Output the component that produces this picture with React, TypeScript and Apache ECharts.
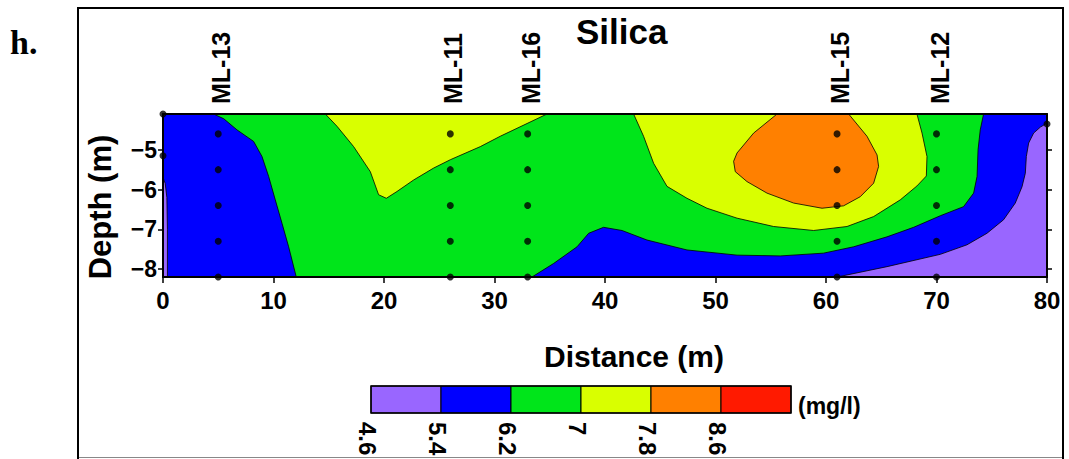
import React, { useEffect, useRef } from "react";
import * as echarts from "echarts";

// Axis ticks
const distanceMin = 0;
const distanceMax = 80;
const depthTop = -4.1;
const depthBottom = -8.2;
const depthTicks = [-8, -7, -6, -5];

// Monitoring wells along the transect and their sampling depths
const wellNames = ["ML-13", "ML-11", "ML-16", "ML-15", "ML-12"];
const wellDistances = [5, 26, 33, 61, 70];
const sampleDepths = [-4.6, -5.5, -6.4, -7.3, -8.2];
const extraSamples: [number, number][] = [
  [0, -4.1],
  [0, -5.15],
  [80, -4.35],
];

// Concentration classes (mg/l)
const levels = [4.6, 5.4, 6.2, 7, 7.8, 8.6];
const levelColors = ["#9966ff", "#0000ff", "#00e51a", "#d9ff00", "#ff8000", "#ff1a00"];

// Contour bands as [distance, depth] outlines, painted in order
const fullSection: [number, number][] = [
  [0, -4.1], [80, -4.1], [80, -8.2], [0, -8.2],
];
const blueLeft: [number, number][] = [
  [0, -4.1], [4.58, -4.1], [5.5, -4.22], [6.7, -4.5], [8.2, -4.79], [8.96, -5.17],
  [9.56, -5.67], [10.16, -6.26], [10.77, -6.85], [11.37, -7.44], [12.06, -8.2], [0, -8.2],
];
const purpleLeft: [number, number][] = [
  [0, -5.7], [0.2, -5.85], [0.35, -6.2], [0.4, -7.0], [0.4, -8.2], [0, -8.2],
];
const blueRight: [number, number][] = [
  [33.39, -8.2], [35.35, -7.86], [37.47, -7.44], [38.52, -7.1], [39.87, -6.95],
  [41.54, -7.03], [43.8, -7.27], [47.42, -7.52], [51.95, -7.65], [55.86, -7.67],
  [59.78, -7.6], [62.5, -7.44], [65.52, -7.19], [67.93, -6.95], [70.34, -6.66],
  [72.45, -6.43], [73.36, -6.09], [73.67, -5.67], [73.76, -5.0], [73.96, -4.5],
  [74.26, -4.1], [80, -4.1], [80, -8.2],
];
const purpleRight: [number, number][] = [
  [61, -8.2], [65.52, -7.94], [70.34, -7.63], [72.76, -7.39], [74.57, -7.1],
  [76.07, -6.76], [77.13, -6.34], [77.74, -5.93], [78.04, -5.59], [78.13, -5.17],
  [78.34, -4.83], [78.79, -4.58], [79.4, -4.43], [80, -4.33], [80, -8.2],
];
const yellowLeft: [number, number][] = [
  [14.69, -4.1], [15.75, -4.41], [17.25, -4.92], [18.76, -5.55], [19.51, -6.13],
  [20.21, -6.22], [21.17, -6.05], [22.68, -5.76], [24.49, -5.46], [26.0, -5.25],
  [28.72, -4.92], [30.52, -4.66], [32.94, -4.34], [34.75, -4.1],
];
const yellowRight: [number, number][] = [
  [42.59, -4.1], [43.49, -4.66], [44.4, -5.34], [45.61, -5.92], [47.42, -6.22],
  [49.23, -6.47], [51.95, -6.72], [55.26, -6.93], [58.88, -7.03], [61.9, -6.93],
  [64.31, -6.68], [66.72, -6.26], [68.23, -5.91], [69.08, -5.66], [69.14, -5.17],
  [68.69, -4.58], [68.23, -4.1],
];
const orangeCore: [number, number][] = [
  [55.57, -4.1], [53.45, -4.58], [51.95, -5.08], [51.64, -5.29], [51.79, -5.55],
  [52.85, -5.8], [54.66, -6.09], [57.07, -6.34], [59.64, -6.47], [61.59, -6.41],
  [63.1, -6.18], [64.31, -5.84], [64.76, -5.42], [64.62, -5.13], [63.71, -4.66],
  [62.05, -4.1],
];

const bands: { band: number; outline: boolean; points: [number, number][] }[] = [
  { band: 2, outline: false, points: fullSection },
  { band: 1, outline: true, points: blueLeft },
  { band: 0, outline: true, points: purpleLeft },
  { band: 1, outline: true, points: blueRight },
  { band: 0, outline: true, points: purpleRight },
  { band: 3, outline: true, points: yellowLeft },
  { band: 3, outline: true, points: yellowRight },
  { band: 4, outline: true, points: orangeCore },
];

const sansFont = '"Liberation Sans", Arial, sans-serif';

const minusLabel = (v: number) => String(v).replace("-", "\u2212");

export default function App() {
  const ref = useRef<HTMLDivElement>(null);

  useEffect(() => {
    document.body.style.margin = "0";
    if (!ref.current) return;
    const chart = echarts.init(ref.current, undefined, { renderer: "svg" });

    const samplePoints: [number, number][] = [];
    wellDistances.forEach((d) => sampleDepths.forEach((z) => samplePoints.push([d, z])));
    extraSamples.forEach((p) => samplePoints.push(p));

    const axisTickStyle = { color: "#000", width: 1.5 };
    const axisLineStyle = { color: "#000", width: 2 };

    const option: any = {
      animation: false,
      backgroundColor: "#fff",
      title: {
        text: "Silica",
        left: 571,
        top: 9,
        textStyle: { fontSize: 35, fontWeight: "bold", fontFamily: sansFont, color: "#000" },
      },
      grid: { left: 163, top: 114, width: 884, height: 163, show: false },
      xAxis: [
        {
          type: "value",
          min: distanceMin,
          max: distanceMax,
          interval: 10,
          position: "bottom",
          z: 10,
          axisLine: { show: true, onZero: false, lineStyle: axisLineStyle },
          axisTick: { show: true, inside: false, length: 6, lineStyle: axisTickStyle },
          axisLabel: {
            margin: 11,
            color: "#000",
            fontSize: 24,
            fontWeight: "bold",
            fontFamily: sansFont,
          },
          splitLine: { show: false },
        },
        {
          type: "value",
          min: distanceMin,
          max: distanceMax,
          interval: 10,
          position: "top",
          z: 10,
          axisLine: { show: true, onZero: false, lineStyle: axisLineStyle },
          axisTick: { show: false },
          axisLabel: { show: false },
          splitLine: { show: false },
        },
      ],
      yAxis: [
        {
          type: "value",
          min: depthBottom,
          max: depthTop,
          position: "left",
          z: 10,
          axisLine: { show: true, onZero: false, lineStyle: axisLineStyle },
          axisTick: {
            show: true,
            inside: false,
            length: 5,
            customValues: depthTicks,
            lineStyle: axisTickStyle,
          },
          axisLabel: {
            customValues: depthTicks,
            formatter: minusLabel,
            margin: 6,
            color: "#000",
            fontSize: 23,
            fontWeight: "bold",
            fontFamily: sansFont,
          },
          splitLine: { show: false },
        },
        {
          type: "value",
          min: depthBottom,
          max: depthTop,
          position: "right",
          z: 10,
          axisLine: { show: true, onZero: false, lineStyle: axisLineStyle },
          axisTick: {
            show: true,
            inside: false,
            length: 5,
            customValues: depthTicks,
            lineStyle: axisTickStyle,
          },
          axisLabel: { show: false },
          splitLine: { show: false },
        },
      ],
      series: [
        {
          type: "custom",
          xAxisIndex: 0,
          yAxisIndex: 0,
          z: 2,
          data: bands.map((b) => [b.points[0][0], b.points[0][1]]),
          renderItem: (params: any, api: any) => {
            const b = bands[params.dataIndex];
            const pts = b.points.map((p) => api.coord(p));
            return {
              type: "polygon",
              shape: { points: pts },
              style: {
                fill: levelColors[b.band],
                stroke: b.outline ? "#000" : "none",
                lineWidth: 0.8,
              },
            };
          },
        },
        {
          type: "scatter",
          xAxisIndex: 0,
          yAxisIndex: 0,
          z: 12,
          clip: false,
          symbol: "circle",
          symbolSize: 7,
          itemStyle: { color: "#000" },
          data: samplePoints,
        },
      ],
    };

    chart.setOption(option);

    // Well names stand upright above the section, placed through the axis scale
    const wellLabels = wellNames.map((n, i) => {
      const [px, py] = chart.convertToPixel({ xAxisIndex: 0, yAxisIndex: 0 }, [
        wellDistances[i],
        depthTop,
      ]) as number[];
      return {
        type: "text",
        x: px + 3,
        y: py - 10,
        rotation: Math.PI / 2,
        style: {
          text: n,
          align: "left",
          verticalAlign: "middle",
          font: `bold 25px ${sansFont}`,
          fill: "#000",
        },
      };
    });

    // Colour-scale legend below the section
    const legendLeft = 371;
    const legendTop = 386;
    const boxW = 70;
    const boxH = 27;
    const legendItems: any[] = [];
    levelColors.forEach((c, i) => {
      legendItems.push({
        type: "rect",
        shape: { x: legendLeft + i * boxW, y: legendTop, width: boxW, height: boxH },
        style: { fill: c, stroke: "#000", lineWidth: 1 },
      });
    });
    legendItems.push({
      type: "rect",
      shape: { x: legendLeft, y: legendTop, width: boxW * levelColors.length, height: boxH },
      style: { fill: "none", stroke: "#000", lineWidth: 1.5 },
    });
    levels.forEach((v, i) => {
      legendItems.push({
        type: "text",
        x: legendLeft + i * boxW - 4,
        y: legendTop + boxH + 9,
        rotation: -Math.PI / 2,
        style: {
          text: String(v),
          align: "left",
          verticalAlign: "middle",
          font: `bold 24px ${sansFont}`,
          fill: "#000",
        },
      });
    });
    legendItems.push({
      type: "text",
      x: 798,
      y: 406,
      style: {
        text: "(mg/l)",
        align: "left",
        verticalAlign: "middle",
        font: `bold 23px ${sansFont}`,
        fill: "#000",
      },
    });

    chart.setOption({
      graphic: [
        {
          type: "polyline",
          shape: { points: [[78, 470], [78, 8], [1063, 8], [1063, 470]] },
          style: { stroke: "#000", lineWidth: 2, fill: "none" },
          z: 1,
        },
        {
          type: "line",
          shape: { x1: 78, y1: 457.5, x2: 1063, y2: 457.5 },
          style: { stroke: "#888", lineWidth: 1 },
        },
        {
          type: "text",
          x: 10,
          y: 42,
          style: {
            text: "h.",
            align: "left",
            verticalAlign: "middle",
            font: 'bold 34px "Liberation Serif", "Times New Roman", serif',
            fill: "#000",
          },
        },
        {
          type: "text",
          x: 100,
          y: 207,
          rotation: Math.PI / 2,
          style: {
            text: "Depth (m)",
            align: "center",
            verticalAlign: "middle",
            font: `bold 31px ${sansFont}`,
            fill: "#000",
          },
        },
        {
          type: "text",
          x: 634,
          y: 356,
          style: {
            text: "Distance (m)",
            align: "center",
            verticalAlign: "middle",
            font: `bold 30px ${sansFont}`,
            fill: "#000",
          },
        },
        ...wellLabels,
        ...legendItems,
      ],
    });

    return () => chart.dispose();
  }, []);

  return <div ref={ref} style={{ width: 1069, height: 459 }} />;
}
